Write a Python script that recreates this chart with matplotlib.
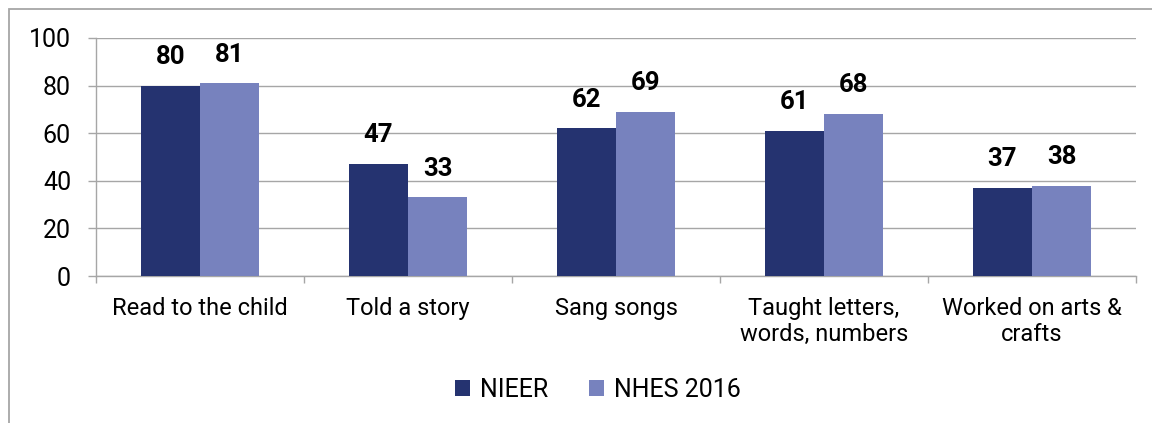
import numpy as np
import matplotlib.pyplot as plt
from matplotlib.patches import Rectangle

plt.rcParams['font.family'] = ['Roboto', 'DejaVu Sans']

categories = ["Read to the child", "Told a story", "Sang songs",
              "Taught letters,\nwords, numbers", "Worked on arts &\ncrafts"]
nieer = [80, 47, 62, 61, 37]
nhes = [81, 33, 69, 68, 38]
series_names = ["NIEER", "NHES 2016"]
colors = ["#253370", "#7782BE"]

fig = plt.figure(figsize=(11.52, 4.23), dpi=100)
ax = fig.add_axes([96 / 1152, 1 - 276 / 423, (1136 - 96) / 1152, (276 - 38) / 423])

# outer chart frame (only left and top edges are visible in the crop)
fig.patches.append(Rectangle((9 / 1152, -0.1), 1.2, 1.1 - 9 / 423,
                             transform=fig.transFigure, fill=False,
                             edgecolor="#A6A6A6", linewidth=1.3))

x = np.arange(len(categories))
w = 0.285
b1 = ax.bar(x - w / 2, nieer, w, color=colors[0], label=series_names[0], zorder=3)
b2 = ax.bar(x + w / 2, nhes, w, color=colors[1], label=series_names[1], zorder=3)

for bars in (b1, b2):
    for r in bars:
        ax.annotate(f"{r.get_height():.0f}", (r.get_x() + r.get_width() / 2, r.get_height()),
                    xytext=(0, 12), textcoords="offset points", ha="center", va="bottom",
                    fontsize=18.5, fontweight="bold", color="black")

ax.set_xlim(-0.5, len(categories) - 0.5)
ax.set_ylim(0, 100)
ax.set_yticks(range(0, 101, 20))
ax.yaxis.grid(True, color="#A6A6A6", linewidth=1)
ax.set_axisbelow(True)

ax.set_xticks(np.arange(-0.5, len(categories), 1))
ax.set_xticklabels([])
ax.set_xticks(x, minor=True)
ax.set_xticklabels(categories, minor=True, fontsize=17)
ax.tick_params(axis="x", which="major", length=5, color="#A6A6A6", width=1)
ax.tick_params(axis="x", which="minor", length=0, pad=15)
ax.tick_params(axis="y", length=6, color="#A6A6A6", width=1, labelsize=18, pad=12)

for s in ("top", "right"):
    ax.spines[s].set_visible(False)
for s in ("left", "bottom"):
    ax.spines[s].set_color("#A6A6A6")
    ax.spines[s].set_linewidth(1)

fig.legend(loc="center", bbox_to_anchor=(598 / 1152, 1 - 390 / 423), ncol=2,
           frameon=False, fontsize=18, handlelength=0.6, handleheight=0.6,
           handletextpad=0.4, columnspacing=1.6)

fig.savefig("out.png", dpi=100)
